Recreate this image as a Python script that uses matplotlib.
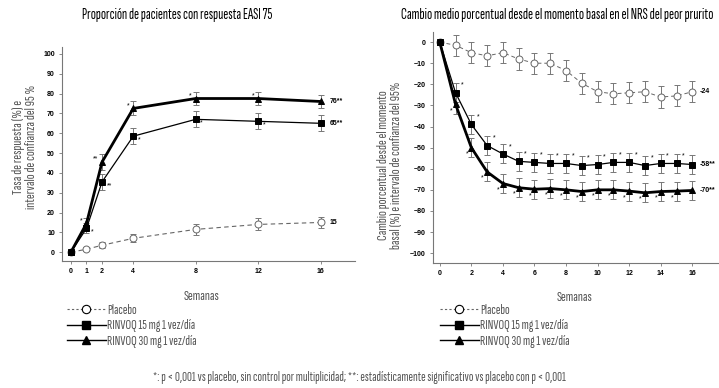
import matplotlib.pyplot as plt
import numpy as np

estrecha = ['Sofia Sans Extra Condensed', 'Pathway Gothic One', 'Roboto Condensed', 'DejaVu Sans']
plt.rcParams['font.family'] = estrecha

# Datos: EASI 75 (izquierda)
sem_easi = [0, 1, 2, 4, 8, 12, 16]
easi_placebo = [0, 1.5, 3.5, 7, 11.5, 14, 15]
easi_placebo_err = [0, 1, 1.5, 2, 2.8, 3, 3]
easi_15 = [0, 12, 35.5, 58.5, 67, 66, 65]
easi_15_err = [0, 2.5, 4, 4, 4, 4, 4]
easi_30 = [0, 14.5, 45.5, 72.5, 77.5, 77.5, 76]
easi_30_err = [0, 2.5, 4, 3.5, 3.5, 3.5, 3.5]

# Datos: NRS del peor prurito (derecha)
sem_nrs = list(range(17))
nrs_placebo = [0, -1.5, -5, -6.5, -5, -8, -10, -10, -13.5, -19.5, -23.5,
               -24.5, -24, -23.5, -26, -25.5, -23.5]
nrs_15 = [0, -24, -39, -49, -53, -56.5, -57, -57.5, -57.5, -58.5, -58,
          -57, -57, -58.5, -57.5, -57.5, -58]
nrs_30 = [0, -29.5, -50, -61.5, -67, -69, -69.7, -69.4, -70, -70.8, -70,
          -70, -70.6, -71.4, -70.8, -70.6, -70.3]
nrs_err = [0] + [4.5] * 16
nrs_placebo_err = [0] + [5] * 16

gris = '#666666'
texto = '#555555'
num = ['Liberation Sans', 'DejaVu Sans']

fig = plt.figure(figsize=(7.19, 3.88), dpi=100)
ax1 = fig.add_axes([0.086, 0.327, 0.4075, 0.552])
ax2 = fig.add_axes([0.602, 0.322, 0.396, 0.595])


def estilo(ax):
    ax.spines['top'].set_visible(False)
    ax.spines['right'].set_visible(False)
    for s in ['left', 'bottom']:
        ax.spines[s].set_color('#777777')
        ax.spines[s].set_linewidth(0.8)
    ax.tick_params(labelsize=5, length=2.5, width=0.6, color='#777777', pad=2.5)
    for lab in ax.get_xticklabels() + ax.get_yticklabels():
        lab.set_fontweight('bold')
        lab.set_family(num)


def serie(ax, x, y, e, fmt, ms, lw, mfc, ls='-', color='black'):
    ax.errorbar(x, y, yerr=e, fmt='none', ecolor='#777777', elinewidth=0.7,
                capsize=2.3, capthick=0.7, zorder=2)
    ax.plot(x, y, marker=fmt, ms=ms, lw=lw, color=color, mfc=mfc,
            mec=color, mew=0.7, ls=ls, zorder=3)


def fin(ax, x, y, t):
    ax.text(x, y, t, fontsize=5, fontweight='bold', va='center', family=num)


# Grafico izquierdo
serie(ax1, sem_easi, easi_placebo, easi_placebo_err, 'o', 5, 0.8, 'white',
      ls=(0, (4, 3)), color=gris)
serie(ax1, sem_easi, easi_15, easi_15_err, 's', 4.5, 0.9, 'black')
serie(ax1, sem_easi, easi_30, easi_30_err, '^', 5, 2, 'black')
ax1.set_xlim(-0.58, 18.2)
ax1.set_ylim(-4.5, 103.5)
ax1.set_xticks(sem_easi)
ax1.set_yticks(range(0, 101, 10))
estilo(ax1)
ax1.set_xlabel('Semanas', fontsize=10.5, color=texto)
ax1.xaxis.set_label_coords(0.478, -0.135)
ax1.set_ylabel('Tasa de respuesta (%) e\nintervalo de confianza del 95 %',
               fontsize=10.5, color=texto, linespacing=0.95, va='center')
ax1.yaxis.set_label_coords(-0.126, 0.533)
fin(ax1, 16.6, 76, '76**')
fin(ax1, 16.6, 65, '65**')
fin(ax1, 16.6, 15, '15')
for x, y, t in [(1, 14.5, '*'), (2, 45.5, '**'), (4, 72.5, '*'), (8, 77.5, '*'), (12, 77.5, '*')]:
    ax1.text(x - 0.25, y + 1.5, t, fontsize=5, ha='right', va='center', family=num)
for x, y, t in [(1, 12, '*'), (2, 35.5, '**'), (4, 58.5, '*'), (8, 67, '*'), (12, 66, '*')]:
    ax1.text(x + 0.3, y - 2, t, fontsize=5, ha='left', va='center', family=num)

# Grafico derecho
serie(ax2, sem_nrs, nrs_placebo, nrs_placebo_err, 'o', 5, 0.7, 'white',
      ls=(0, (4, 3)), color=gris)
serie(ax2, sem_nrs, nrs_15, nrs_err, 's', 4.5, 0.9, 'black')
serie(ax2, sem_nrs, nrs_30, nrs_err, '^', 4.5, 2, 'black')
ax2.set_xlim(-0.44, 17.6)
ax2.set_ylim(-104.7, 4.7)
ax2.set_xticks(range(0, 17, 2))
ax2.set_yticks(range(-100, 1, 10))
estilo(ax2)
ax2.set_xlabel('Semanas', fontsize=10.5, color=texto)
ax2.xaxis.set_label_coords(0.498, -0.121)
ax2.set_ylabel('Cambio porcentual desde el momento\nbasal (%) e intervalo de confianza del 95%',
               fontsize=10.5, color=texto, linespacing=0.95, va='center')
ax2.yaxis.set_label_coords(-0.151, 0.424)
fin(ax2, 16.5, -23.5, '-24')
fin(ax2, 16.5, -58, '-58**')
fin(ax2, 16.5, -70.3, '-70**')
for x, y in zip(sem_nrs[1:16], nrs_15[1:16]):
    ax2.text(x + 0.35, y + 3.5, '*', fontsize=5, ha='left', va='center', family=num)
for x, y in zip(sem_nrs[1:16], nrs_30[1:16]):
    ax2.text(x - 0.2, y - 3, '*', fontsize=5, ha='right', va='center', family=num)

# Titulos
fig.text(177.5 / 719, 1 - 15 / 388, 'Proporción de pacientes con respuesta EASI 75',
         ha='center', va='center', fontsize=10.8, fontweight='bold')
fig.text(557.5 / 719, 1 - 15 / 388,
         'Cambio medio porcentual desde el momento basal en el NRS del peor prurito',
         ha='center', va='center', fontsize=10.9, fontweight='bold')

# Leyendas
etiquetas = ['Placebo', 'RINVOQ 15 mg 1 vez/día', 'RINVOQ 30 mg 1 vez/día']
h_pl = plt.Line2D([], [], color=gris, ls=(0, (2, 2)), lw=0.8, marker='o', ms=6,
                  mfc='white', mec='black', mew=0.8)
h_15 = plt.Line2D([], [], color='black', lw=1, marker='s', ms=6)
h_30 = plt.Line2D([], [], color='black', lw=1, marker='^', ms=6)
for xl in [67 / 719, 440 / 719]:
    fig.legend([h_pl, h_15, h_30], etiquetas, loc='upper left',
               bbox_to_anchor=(xl, 1 - 304 / 388), frameon=False, fontsize=10,
               handlelength=2.8, handletextpad=0.1, labelspacing=0.18,
               borderpad=0, borderaxespad=0, labelcolor=texto)

fig.text(0.5, 1 - 377 / 388, '*: p < 0,001 vs placebo, sin control por multiplicidad; '
         '**: estadísticamente significativo vs placebo con p < 0,001',
         ha='center', va='center', fontsize=9.8, color=texto)

plt.savefig('out.png', dpi=100)
